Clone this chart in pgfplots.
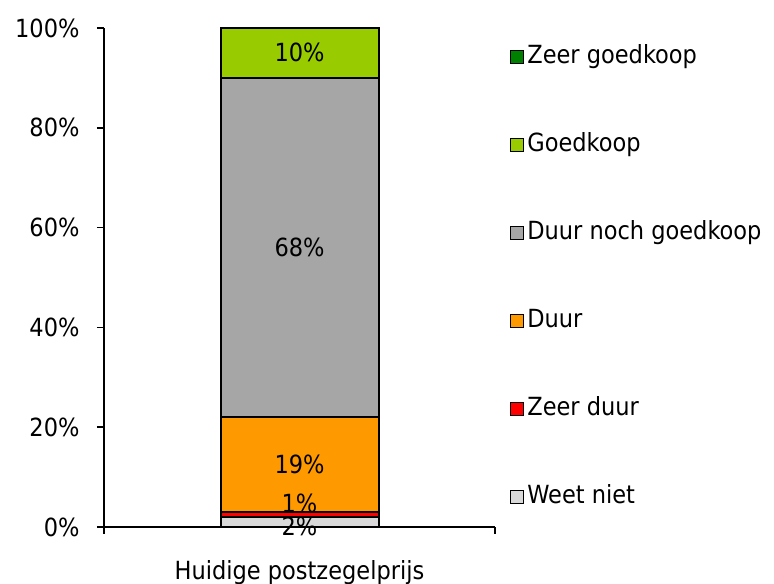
\documentclass[border=0pt]{standalone}
\usepackage{pgfplots}
\pgfplotsset{compat=1.18}
\usepackage{fontspec}
\setmainfont{DejaVu Sans Condensed}
\definecolor{cweet}{RGB}{217,217,217}
\definecolor{czduur}{RGB}{255,0,0}
\definecolor{cduur}{RGB}{255,153,0}
\definecolor{cneutr}{RGB}{166,166,166}
\definecolor{cgoed}{RGB}{153,204,0}
\definecolor{czgoed}{RGB}{0,128,0}
\begin{document}
\begin{tikzpicture}[font=\fontsize{25bp}{30bp}\selectfont]
\path[use as bounding box] (0,0) rectangle (774bp,584bp);
\begin{axis}[
  at={(104bp,57bp)}, anchor=south west,
  scale only axis, width=391bp, height=499bp,
  ybar stacked, bar width=158bp,
  xmin=-0.5, xmax=0.5, ymin=0, ymax=100,
  axis x line*=bottom, axis y line*=left,
  axis line style={line width=1.5bp, black},
  every tick/.style={black, line width=1.5bp},
  tick align=outside, major tick length=7bp,
  xtick={-0.5,0.5}, xticklabels={},
  extra x ticks={0}, extra x tick labels={Huidige postzegelprijs},
  extra x tick style={major tick length=0pt, xticklabel style={yshift=-30bp}},
  ytick={0,20,40,60,80,100},
  yticklabels={0\%,20\%,40\%,60\%,80\%,100\%},
  yticklabel style={xshift=-14bp},
  /pgf/number format/assume math mode=true,
  reverse legend,
  legend cell align=left,
  legend image code/.code={\draw[#1,draw=black,line width=1.2bp] (0bp,-6.5bp) rectangle (13bp,6.5bp);},
  legend style={at={(1,1)}, anchor=north west, xshift=12bp, yshift=-12bp,
    draw=none, fill=none, row sep=58bp,
    nodes={anchor=west, inner sep=3bp, text height=18bp, text depth=6bp}},
]
\addplot[fill=cweet, draw=black, line width=2bp] coordinates {(0,2)};
\addlegendentry{Weet niet}
\addplot[fill=czduur, draw=black, line width=2bp] coordinates {(0,1)};
\addlegendentry{Zeer duur}
\addplot[fill=cduur, draw=black, line width=2bp] coordinates {(0,19)};
\addlegendentry{Duur}
\addplot[fill=cneutr, draw=black, line width=2bp] coordinates {(0,68)};
\addlegendentry{Duur noch goedkoop}
\addplot[fill=cgoed, draw=black, line width=2bp] coordinates {(0,10)};
\addlegendentry{Goedkoop}
\addplot[fill=czgoed, draw=black, line width=2bp] coordinates {(0,0)};
\addlegendentry{Zeer goedkoop}
\end{axis}
\begin{axis}[
  at={(104bp,57bp)}, anchor=south west,
  scale only axis, width=391bp, height=499bp,
  xmin=-0.5, xmax=0.5, ymin=0, ymax=100,
  hide axis,
]
\addplot[draw=none, mark=none, nodes near coords, point meta=explicit symbolic,
  nodes near coords style={anchor=center, inner sep=0pt}]
  table[x=x, y=y, meta=lab] {
x y lab
0 0.2 2\%
0 4.8 1\%
0 12.5 19\%
0 56.1 68\%
0 95.1 10\%
};
\end{axis}
\end{tikzpicture}
\end{document}
